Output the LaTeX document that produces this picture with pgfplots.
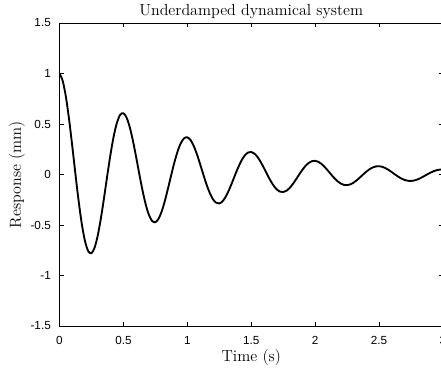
\documentclass[border=0pt]{standalone}
\usepackage{fontspec}
\setsansfont{Liberation Sans}
\usepackage{pgfplots}
\pgfplotsset{compat=1.18}
\begin{document}
\begin{tikzpicture}
\begin{axis}[
  name=ax,
  at={(0,0)}, anchor=south west,
  scale only axis,
  width=287.625pt, height=227.25pt,
  xmin=0, xmax=3, ymin=-1.5, ymax=1.5,
  xtick={0,0.5,...,3},
  ytick={-1.5,-1,...,1.5},
  axis line style={line width=0.7pt},
  every tick/.style={black, line width=0.6pt},
  major tick length=3pt,
  tick align=inside,
  /pgf/number format/assume math mode=true,
  tick label style={font=\sffamily\fontsize{8.8}{10}\selectfont},
  xticklabel style={yshift=-4pt},
  yticklabel style={xshift=-3pt},
  title={Underdamped dynamical system},
  every axis title/.style={font=\large, at={(axis description cs:0.5,1)}, anchor=base, yshift=5.6pt},
  xlabel={Time (s)},
  ylabel={Response (mm)},
  every axis x label/.style={at={(axis description cs:0.5,-0.1188)}, anchor=base, font=\large},
  every axis y label/.style={at={(axis description cs:-0.1008,0.5)}, rotate=90, anchor=base, font=\large},
]
\addplot[black, line width=1.4pt, smooth] coordinates {
(0.000,1.00000) (0.025,0.92758) (0.050,0.76956) (0.075,0.54532) (0.100,0.27961)
(0.125,0.00000) (0.150,-0.26598) (0.175,-0.49343) (0.200,-0.66237) (0.225,-0.75944)
(0.250,-0.77880) (0.275,-0.72240) (0.300,-0.59934) (0.325,-0.42470) (0.350,-0.21776)
(0.375,0.00000) (0.400,0.20714) (0.425,0.38428) (0.450,0.51586) (0.475,0.59145)
(0.500,0.60653) (0.525,0.56261) (0.550,0.46676) (0.575,0.33075) (0.600,0.16959)
(0.625,0.00000) (0.650,-0.16132) (0.675,-0.29928) (0.700,-0.40175) (0.725,-0.46063)
(0.750,-0.47237) (0.775,-0.43815) (0.800,-0.36352) (0.825,-0.25759) (0.850,-0.13208)
(0.875,0.00000) (0.900,0.12564) (0.925,0.23308) (0.950,0.31288) (0.975,0.35873)
(1.000,0.36788) (1.025,0.34124) (1.050,0.28311) (1.075,0.20061) (1.100,0.10286)
(1.125,0.00000) (1.150,-0.09785) (1.175,-0.18152) (1.200,-0.24367) (1.225,-0.27938)
(1.250,-0.28650) (1.275,-0.26575) (1.300,-0.22048) (1.325,-0.15624) (1.350,-0.08011)
(1.375,0.00000) (1.400,0.07620) (1.425,0.14137) (1.450,0.18977) (1.475,0.21758)
(1.500,0.22313) (1.525,0.20697) (1.550,0.17171) (1.575,0.12168) (1.600,0.06239)
(1.625,0.00000) (1.650,-0.05935) (1.675,-0.11010) (1.700,-0.14779) (1.725,-0.16945)
(1.750,-0.17377) (1.775,-0.16119) (1.800,-0.13373) (1.825,-0.09476) (1.850,-0.04859)
(1.875,0.00000) (1.900,0.04622) (1.925,0.08575) (1.950,0.11510) (1.975,0.13197)
(2.000,0.13534) (2.025,0.12554) (2.050,0.10415) (2.075,0.07380) (2.100,0.03784)
(2.125,0.00000) (2.150,-0.03600) (2.175,-0.06678) (2.200,-0.08964) (2.225,-0.10278)
(2.250,-0.10540) (2.275,-0.09777) (2.300,-0.08111) (2.325,-0.05748) (2.350,-0.02947)
(2.375,0.00000) (2.400,0.02803) (2.425,0.05201) (2.450,0.06982) (2.475,0.08005)
(2.500,0.08208) (2.525,0.07613) (2.550,0.06317) (2.575,0.04476) (2.600,0.02295)
(2.625,0.00000) (2.650,-0.02183) (2.675,-0.04050) (2.700,-0.05437) (2.725,-0.06233)
(2.750,-0.06392) (2.775,-0.05929) (2.800,-0.04920) (2.825,-0.03486) (2.850,-0.01787)
(2.875,0.00000) (2.900,0.01700) (2.925,0.03154) (2.950,0.04234) (2.975,0.04854)
(3.000,0.04979)
};
\end{axis}
\pgfresetboundingbox
\path (-44.625pt,-33pt) rectangle (286.125pt,244.5pt);
\end{tikzpicture}
\end{document}
